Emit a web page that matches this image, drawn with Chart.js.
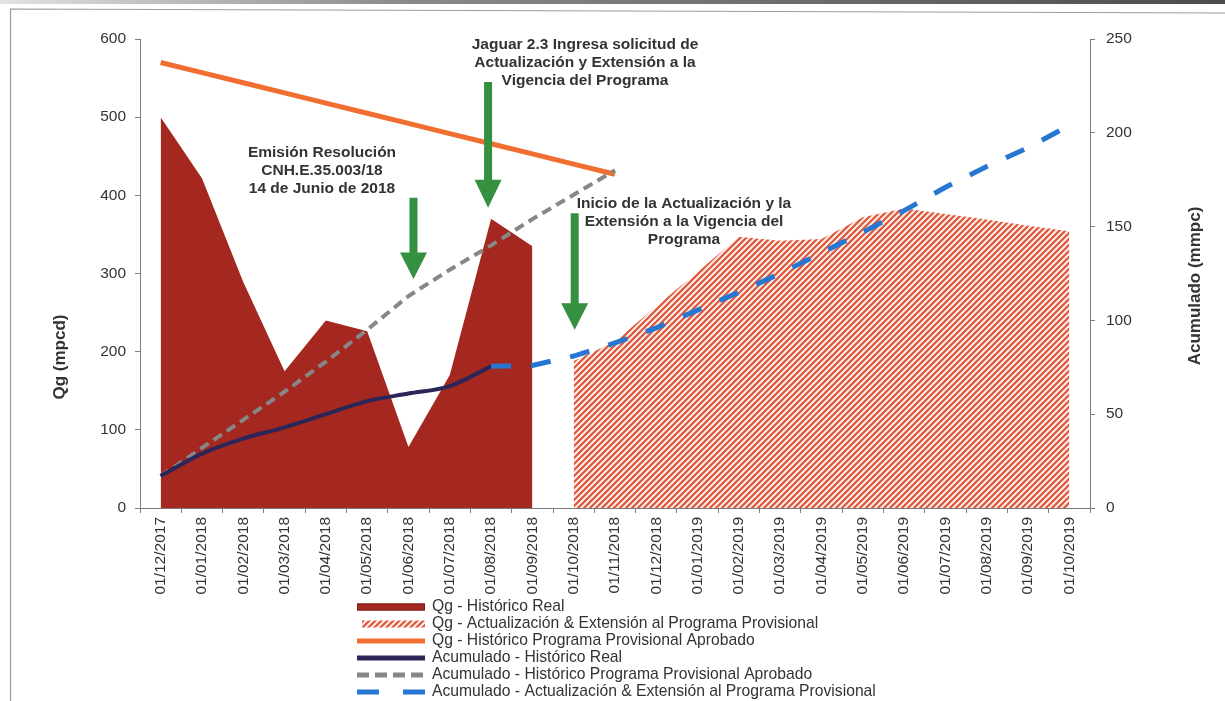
<!DOCTYPE html>
<html>
<head>
<meta charset="utf-8">
<script src="https://cdn.jsdelivr.net/npm/chart.js@4.4.1/dist/chart.umd.min.js"></script>
<style>
  html, body { margin: 0; padding: 0; background: #ffffff; }
  #wrap { position: relative; width: 1225px; height: 701px; }
</style>
</head>
<body>
<div id="wrap"><canvas id="c"></canvas></div>
<script>
// ---------- DATA ----------
const labels = ['01/12/2017','01/01/2018','01/02/2018','01/03/2018','01/04/2018','01/05/2018',
  '01/06/2018','01/07/2018','01/08/2018','01/09/2018','01/10/2018','01/11/2018','01/12/2018',
  '01/01/2019','01/02/2019','01/03/2019','01/04/2019','01/05/2019','01/06/2019','01/07/2019',
  '01/08/2019','01/09/2019','01/10/2019'];

const qgHistoricoReal = [500, 422, 289, 175, 240, 226, 78, 170, 370, 335,
  null, null, null, null, null, null, null, null, null, null, null, null, null];

const qgActualizacion = [null, null, null, null, null, null, null, null, null, null,
  188, 213, 258, 302, 347, 342, 344, 372, 383, 376, 369, 361, 354];

const qgProgramaAprobado = [570, 557, 544, 531, 518, 505, 492, 479, 466, 453, 440, 427,
  null, null, null, null, null, null, null, null, null, null, null];

const acumHistoricoReal = [17, 29, 37, 43, 50, 57, 61, 65, 75.5,
  null, null, null, null, null, null, null, null, null, null, null, null, null, null];

const acumProgramaAprobado = [17, 32, 47, 62, 78, 95, 113, 127, 140, 154, 167, 180,
  null, null, null, null, null, null, null, null, null, null, null];

const acumActualizacion = [null, null, null, null, null, null, null, null,
  75.5, 76, 81, 88, 96, 105.5, 115, 125, 136, 147, 158.5, 171, 182, 192, 204];

const leftTicks = { min: 0, max: 600, step: 100 };
const rightTicks = { min: 0, max: 250, step: 50 };

const legendLabels = [
  'Qg - Histórico Real',
  'Qg - Actualización & Extensión al Programa Provisional',
  'Qg - Histórico Programa Provisional Aprobado',
  'Acumulado - Histórico Real',
  'Acumulado - Histórico Programa Provisional Aprobado',
  'Acumulado - Actualización & Extensión al Programa Provisional'
];

const notes = [
  { lines: ['Emisión Resolución', 'CNH.E.35.003/18', '14 de Junio de 2018'], x: 322, y: 153 },
  { lines: ['Jaguar 2.3 Ingresa solicitud de', 'Actualización y Extensión a la', 'Vigencia del Programa'], x: 585, y: 45 },
  { lines: ['Inicio de la Actualización y la', 'Extensión a la Vigencia del', 'Programa'], x: 684, y: 204 }
];
// arrows: category index (+pixel nudge), top of shaft / start of head / tip in left-axis units
const arrows = [
  { idx: 6, dx: 5, top: 397, head: 327, tip: 293 },
  { idx: 8, dx: -3, top: 545, head: 420, tip: 384 },
  { idx: 10, dx: 1, top: 377, head: 262, tip: 228 }
];

// ---------- STYLE ----------
const FONT = "'Liberation Sans', Arial, sans-serif";
const C_RED = '#a4281f';
const C_HATCH = '#e0553a';
const C_ORANGE = '#f06f30';
const C_NAVY = '#2c2558';
const C_GREY = '#878787';
const C_BLUE = '#2677d2';
const C_GREEN = '#35903f';
const C_TEXT = '#333333';

function makeHatch() {
  const n = 6;
  const cv = document.createElement('canvas');
  cv.width = n; cv.height = n;
  const g = cv.getContext('2d');
  g.fillStyle = '#fcefe9';
  g.fillRect(0, 0, n, n);
  g.strokeStyle = C_HATCH;
  g.lineWidth = 2.2;
  g.beginPath();
  g.moveTo(-1, n + 1); g.lineTo(n + 1, -1);
  g.moveTo(-1, 1); g.lineTo(1, -1);
  g.moveTo(n - 1, n + 1); g.lineTo(n + 1, n - 1);
  g.stroke();
  return g.createPattern(cv, 'repeat');
}
const hatch = makeHatch();

const overlay = {
  id: 'overlay',
  beforeDraw(chart) {
    const c = chart.ctx, W = chart.width, H = chart.height;
    c.save();
    c.fillStyle = '#ffffff';
    c.fillRect(0, 0, W, H);
    const g = c.createLinearGradient(0, 0, W, 0);
    g.addColorStop(0, '#e2e2e2');
    g.addColorStop(0.33, '#8a8a8a');
    g.addColorStop(1, '#4c4c4c');
    c.fillStyle = g;
    c.fillRect(0, 0, W, 4);
    c.strokeStyle = '#9c9c9c';
    c.lineWidth = 1.2;
    c.beginPath();
    c.moveTo(10.5, H); c.lineTo(10.5, 9); c.lineTo(W, 13);
    c.stroke();
    c.restore();
  },
  afterDraw(chart) {
    const c = chart.ctx;
    const xs = chart.scales.x, ys = chart.scales.y;
    c.save();
    // arrows
    c.fillStyle = C_GREEN;
    arrows.forEach(a => {
      const x = xs.getPixelForValue(a.idx) + a.dx;
      const yt = ys.getPixelForValue(a.top);
      const yh = ys.getPixelForValue(a.head);
      const yp = ys.getPixelForValue(a.tip);
      const sw = 4, hw = 13.5;
      c.beginPath();
      c.moveTo(x - sw, yt); c.lineTo(x + sw, yt); c.lineTo(x + sw, yh);
      c.lineTo(x + hw, yh); c.lineTo(x, yp); c.lineTo(x - hw, yh);
      c.lineTo(x - sw, yh); c.closePath();
      c.fill();
    });
    // annotation text
    c.fillStyle = C_TEXT;
    c.font = 'bold 15.5px ' + FONT;
    c.textAlign = 'center';
    c.textBaseline = 'middle';
    notes.forEach(n => n.lines.forEach((t, i) => c.fillText(t, n.x, n.y + i * 18)));
    // axis titles
    c.font = 'bold 17px ' + FONT;
    c.save(); c.translate(60, 357); c.rotate(-Math.PI / 2); c.fillText('Qg (mpcd)', 0, 0); c.restore();
    c.save(); c.translate(1195, 286); c.rotate(-Math.PI / 2); c.fillText('Acumulado (mmpc)', 0, 0); c.restore();
    // legend
    const lx0 = 357, lx1 = 425, tx = 432, ly0 = 607, dy = 17;
    c.font = '15.7px ' + FONT;
    c.textAlign = 'left';
    legendLabels.forEach((t, i) => {
      const y = ly0 + i * dy;
      c.save();
      if (i === 0) {
        c.fillStyle = C_RED; c.fillRect(lx0, y - 3.5, lx1 - lx0, 7);
        c.strokeStyle = '#7a1a14'; c.lineWidth = 1; c.strokeRect(lx0 + 0.5, y - 3, lx1 - lx0 - 1, 6);
      } else if (i === 1) {
        c.fillStyle = hatch; c.fillRect(lx0 + 5, y - 3.5, lx1 - lx0 - 5, 7);
      } else {
        c.lineWidth = 5;
        c.lineCap = 'butt';
        if (i === 2) { c.strokeStyle = C_ORANGE; }
        if (i === 3) { c.strokeStyle = C_NAVY; }
        if (i === 4) { c.strokeStyle = C_GREY; c.setLineDash([12, 6]); }
        if (i === 5) { c.strokeStyle = C_BLUE; c.setLineDash([22, 24]); }
        c.beginPath(); c.moveTo(lx0, y); c.lineTo(lx1, y); c.stroke();
      }
      c.restore();
      c.fillStyle = C_TEXT;
      c.fillText(t, tx, y);
    });
    c.restore();
  }
};

const axisCommon = {
  border: { display: true, color: '#7d7d7d', width: 1 },
  grid: { drawOnChartArea: false, drawTicks: true, tickLength: 5, color: '#7d7d7d' },
};

new Chart(document.getElementById('c'), {
  type: 'line',
  data: {
    labels: labels,
    datasets: [
      { label: legendLabels[2], data: qgProgramaAprobado, yAxisID: 'y', borderColor: C_ORANGE,
        borderWidth: 5, pointRadius: 0, fill: false, order: 3 },
      { label: legendLabels[3], data: acumHistoricoReal, yAxisID: 'y2', borderColor: C_NAVY,
        borderWidth: 4, pointRadius: 0, fill: false, tension: 0.4, cubicInterpolationMode: 'monotone', order: 2 },
      { label: legendLabels[4], data: acumProgramaAprobado, yAxisID: 'y2', borderColor: C_GREY,
        borderWidth: 4, borderDash: [10, 6], pointRadius: 0, fill: false, order: 2 },
      { label: legendLabels[5], data: acumActualizacion, yAxisID: 'y2', borderColor: C_BLUE,
        borderWidth: 5, borderDash: [20, 20], pointRadius: 0, fill: false, order: 1 },
      { label: legendLabels[0], data: qgHistoricoReal, yAxisID: 'y', borderWidth: 0,
        borderColor: C_RED, backgroundColor: C_RED, pointRadius: 0, fill: 'origin', order: 10 },
      { label: legendLabels[1], data: qgActualizacion, yAxisID: 'y', borderWidth: 0,
        borderColor: C_HATCH, backgroundColor: hatch, pointRadius: 0, fill: 'origin', order: 10 }
    ]
  },
  options: {
    responsive: true,
    maintainAspectRatio: false,
    animation: false,
    layout: { padding: { top: 39, left: 0, right: 0, bottom: 0 } },
    plugins: { legend: { display: false }, tooltip: { enabled: false }, title: { display: false } },
    scales: {
      x: {
        ...axisCommon,
        offset: true,
        grid: { ...axisCommon.grid, offset: true },
        ticks: { autoSkip: false, maxRotation: 90, minRotation: 90, padding: 4,
          color: C_TEXT, font: { family: FONT, size: 15.5 } },
        afterFit(s) { s.height = 193; }
      },
      y: {
        ...axisCommon,
        position: 'left',
        min: leftTicks.min, max: leftTicks.max,
        ticks: { stepSize: leftTicks.step, padding: 9, color: C_TEXT, font: { family: FONT, size: 15.5 } },
        afterFit(s) { s.width = 140; }
      },
      y2: {
        ...axisCommon,
        position: 'right',
        min: rightTicks.min, max: rightTicks.max,
        ticks: { stepSize: rightTicks.step, padding: 11, color: C_TEXT, font: { family: FONT, size: 15.5 } },
        afterFit(s) { s.width = 135; }
      }
    }
  },
  plugins: [overlay]
});
</script>
</body>
</html>
